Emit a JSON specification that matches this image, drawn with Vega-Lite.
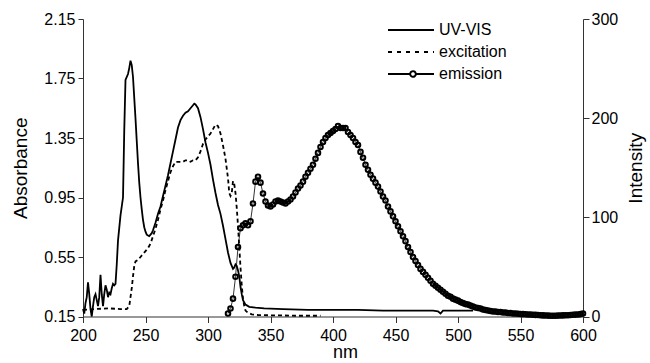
{
  "$schema": "https://vega.github.io/schema/vega-lite/v6.json",
  "width": 500,
  "height": 297.5,
  "autosize": {"type": "none"},
  "padding": {"left": 83, "top": 19, "right": 67, "bottom": 46.5},
  "background": "white",
  "config": {
    "view": {"stroke": null},
    "font": "Liberation Sans",
    "axis": {
      "grid": false,
      "domainColor": "#333",
      "tickColor": "#333",
      "labelColor": "black",
      "titleColor": "black",
      "labelFont": "Liberation Sans",
      "titleFont": "Liberation Sans",
      "labelFontSize": 16,
      "titleFontSize": 19,
      "titleFontWeight": "normal",
      "labelFlush": false,
      "labelOverlap": false
    }
  },
  "datasets": {
    "uv": [
      {"nm":200,"a":0.20},{"nm":201,"a":0.17},{"nm":202,"a":0.24},{"nm":203,"a":0.28},{"nm":204,"a":0.38},{"nm":205,"a":0.30},{"nm":206,"a":0.20},{"nm":207,"a":0.15},{"nm":208,"a":0.22},{"nm":209,"a":0.28},{"nm":210,"a":0.30},{"nm":211,"a":0.26},{"nm":212,"a":0.22},{"nm":213,"a":0.28},{"nm":214,"a":0.43},{"nm":215,"a":0.30},{"nm":216,"a":0.22},{"nm":217,"a":0.30},{"nm":218,"a":0.36},{"nm":219,"a":0.33},{"nm":220,"a":0.28},{"nm":221,"a":0.31},{"nm":222,"a":0.30},{"nm":223,"a":0.34},{"nm":224,"a":0.37},{"nm":225,"a":0.36},{"nm":226,"a":0.37},{"nm":227,"a":0.50},{"nm":228,"a":0.66},{"nm":230,"a":0.83},{"nm":232,"a":0.95},{"nm":233,"a":1.40},{"nm":234,"a":1.74},{"nm":236,"a":1.78},{"nm":237,"a":1.82},{"nm":238,"a":1.87},{"nm":239,"a":1.84},{"nm":240,"a":1.76},{"nm":241,"a":1.62},{"nm":242,"a":1.48},{"nm":243,"a":1.33},{"nm":244,"a":1.18},{"nm":245,"a":1.05},{"nm":246,"a":0.95},{"nm":247,"a":0.87},{"nm":248,"a":0.80},{"nm":249,"a":0.75},{"nm":250,"a":0.72},{"nm":251,"a":0.70},{"nm":252,"a":0.695},{"nm":253,"a":0.69},{"nm":254,"a":0.70},{"nm":255,"a":0.71},{"nm":256,"a":0.73},{"nm":258,"a":0.78},{"nm":260,"a":0.84},{"nm":262,"a":0.89},{"nm":264,"a":0.96},{"nm":266,"a":1.03},{"nm":268,"a":1.10},{"nm":270,"a":1.18},{"nm":272,"a":1.26},{"nm":274,"a":1.34},{"nm":276,"a":1.42},{"nm":278,"a":1.47},{"nm":280,"a":1.50},{"nm":282,"a":1.52},{"nm":284,"a":1.53},{"nm":286,"a":1.55},{"nm":288,"a":1.57},{"nm":289,"a":1.58},{"nm":290,"a":1.575},{"nm":292,"a":1.55},{"nm":294,"a":1.49},{"nm":296,"a":1.41},{"nm":298,"a":1.32},{"nm":300,"a":1.25},{"nm":302,"a":1.17},{"nm":304,"a":1.07},{"nm":306,"a":0.98},{"nm":308,"a":0.90},{"nm":310,"a":0.84},{"nm":312,"a":0.76},{"nm":314,"a":0.67},{"nm":316,"a":0.58},{"nm":318,"a":0.51},{"nm":320,"a":0.47},{"nm":321,"a":0.48},{"nm":322,"a":0.50},{"nm":323,"a":0.49},{"nm":324,"a":0.46},{"nm":325,"a":0.42},{"nm":326,"a":0.35},{"nm":327,"a":0.30},{"nm":328,"a":0.26},{"nm":330,"a":0.23},{"nm":333,"a":0.215},{"nm":338,"a":0.21},{"nm":345,"a":0.205},{"nm":360,"a":0.20},{"nm":380,"a":0.195},{"nm":400,"a":0.195},{"nm":420,"a":0.195},{"nm":440,"a":0.19},{"nm":460,"a":0.19},{"nm":480,"a":0.19},{"nm":484,"a":0.185},{"nm":486,"a":0.17},{"nm":488,"a":0.19},{"nm":500,"a":0.19},{"nm":512,"a":0.19}
    ],
    "exc": [
      {"nm":200,"a":0.195},{"nm":210,"a":0.20},{"nm":220,"a":0.205},{"nm":230,"a":0.20},{"nm":235,"a":0.20},{"nm":237,"a":0.22},{"nm":238,"a":0.28},{"nm":239,"a":0.34},{"nm":240,"a":0.42},{"nm":241,"a":0.49},{"nm":242,"a":0.52},{"nm":244,"a":0.53},{"nm":246,"a":0.55},{"nm":248,"a":0.57},{"nm":250,"a":0.59},{"nm":252,"a":0.61},{"nm":254,"a":0.64},{"nm":256,"a":0.69},{"nm":258,"a":0.74},{"nm":260,"a":0.80},{"nm":262,"a":0.87},{"nm":264,"a":0.93},{"nm":266,"a":1.00},{"nm":268,"a":1.06},{"nm":270,"a":1.12},{"nm":272,"a":1.16},{"nm":274,"a":1.19},{"nm":276,"a":1.19},{"nm":278,"a":1.19},{"nm":280,"a":1.19},{"nm":282,"a":1.20},{"nm":284,"a":1.20},{"nm":286,"a":1.19},{"nm":288,"a":1.20},{"nm":290,"a":1.20},{"nm":292,"a":1.22},{"nm":294,"a":1.26},{"nm":296,"a":1.31},{"nm":298,"a":1.34},{"nm":300,"a":1.36},{"nm":302,"a":1.38},{"nm":304,"a":1.41},{"nm":306,"a":1.44},{"nm":308,"a":1.43},{"nm":310,"a":1.38},{"nm":312,"a":1.30},{"nm":314,"a":1.21},{"nm":316,"a":1.08},{"nm":317,"a":0.98},{"nm":318,"a":0.96},{"nm":319,"a":0.98},{"nm":320,"a":1.06},{"nm":321,"a":1.04},{"nm":322,"a":0.98},{"nm":323,"a":0.88},{"nm":324,"a":0.76},{"nm":325,"a":0.62},{"nm":326,"a":0.48},{"nm":327,"a":0.36},{"nm":328,"a":0.27},{"nm":329,"a":0.22},{"nm":330,"a":0.19},{"nm":332,"a":0.175},{"nm":335,"a":0.165},{"nm":340,"a":0.16},{"nm":350,"a":0.158},{"nm":360,"a":0.157},{"nm":370,"a":0.155},{"nm":380,"a":0.155},{"nm":390,"a":0.155}
    ],
    "em": [
      {"nm":316,"i":3},{"nm":318,"i":8},{"nm":320,"i":18},{"nm":322,"i":40},{"nm":324,"i":70},{"nm":326,"i":89},{"nm":328,"i":92},{"nm":330,"i":94},{"nm":332,"i":92},{"nm":334,"i":96},{"nm":336,"i":114},{"nm":338,"i":136},{"nm":340,"i":141},{"nm":342,"i":135},{"nm":344,"i":124},{"nm":346,"i":116},{"nm":348,"i":112},{"nm":350,"i":111},{"nm":352,"i":113},{"nm":354,"i":116},{"nm":356,"i":117},{"nm":358,"i":116},{"nm":360,"i":115},{"nm":362,"i":114},{"nm":364,"i":116},{"nm":366,"i":118},{"nm":368,"i":121},{"nm":370,"i":125},{"nm":372,"i":129},{"nm":374,"i":132},{"nm":376,"i":136},{"nm":378,"i":141},{"nm":380,"i":145},{"nm":382,"i":149},{"nm":384,"i":153},{"nm":386,"i":159},{"nm":388,"i":165},{"nm":390,"i":171},{"nm":392,"i":176},{"nm":394,"i":180},{"nm":396,"i":183},{"nm":398,"i":185},{"nm":400,"i":187},{"nm":402,"i":189},{"nm":404,"i":192},{"nm":406,"i":190},{"nm":408,"i":190},{"nm":410,"i":190},{"nm":412,"i":186},{"nm":414,"i":183},{"nm":416,"i":180},{"nm":418,"i":176},{"nm":420,"i":173},{"nm":422,"i":166},{"nm":424,"i":160},{"nm":426,"i":153},{"nm":428,"i":148},{"nm":430,"i":143},{"nm":432,"i":139},{"nm":434,"i":135},{"nm":436,"i":131},{"nm":438,"i":126},{"nm":440,"i":121},{"nm":442,"i":117},{"nm":444,"i":111},{"nm":446,"i":106},{"nm":448,"i":101},{"nm":450,"i":96},{"nm":452,"i":91},{"nm":454,"i":86},{"nm":456,"i":81},{"nm":458,"i":76},{"nm":460,"i":70},{"nm":462,"i":65},{"nm":464,"i":60},{"nm":466,"i":56},{"nm":468,"i":52},{"nm":470,"i":48},{"nm":472,"i":45},{"nm":474,"i":42},{"nm":476,"i":39},{"nm":478,"i":36},{"nm":480,"i":33},{"nm":482,"i":31},{"nm":484,"i":29},{"nm":486,"i":27},{"nm":488,"i":25},{"nm":490,"i":23},{"nm":492,"i":21},{"nm":494,"i":20},{"nm":496,"i":18},{"nm":498,"i":17},{"nm":500,"i":16},{"nm":502,"i":14.5},{"nm":504,"i":13.5},{"nm":506,"i":12.5},{"nm":508,"i":12},{"nm":510,"i":11},{"nm":512,"i":10},{"nm":514,"i":9},{"nm":516,"i":8.5},{"nm":518,"i":8},{"nm":520,"i":7},{"nm":522,"i":6.5},{"nm":524,"i":6},{"nm":526,"i":5.5},{"nm":528,"i":5},{"nm":530,"i":5},{"nm":532,"i":4.5},{"nm":534,"i":4.5},{"nm":536,"i":4},{"nm":538,"i":4},{"nm":540,"i":3.5},{"nm":542,"i":3.5},{"nm":544,"i":3},{"nm":546,"i":3},{"nm":548,"i":2.8},{"nm":550,"i":2.5},{"nm":552,"i":2.4},{"nm":554,"i":2.2},{"nm":556,"i":2},{"nm":558,"i":2},{"nm":560,"i":1.8},{"nm":562,"i":1.6},{"nm":564,"i":1.5},{"nm":566,"i":1.3},{"nm":568,"i":1.1},{"nm":570,"i":1},{"nm":572,"i":0.9},{"nm":574,"i":0.8},{"nm":576,"i":0.8},{"nm":578,"i":0.8},{"nm":580,"i":0.9},{"nm":582,"i":1},{"nm":584,"i":1.1},{"nm":586,"i":1.2},{"nm":588,"i":1.3},{"nm":590,"i":1.5},{"nm":592,"i":1.7},{"nm":594,"i":1.9},{"nm":596,"i":2.1},{"nm":598,"i":2.4},{"nm":600,"i":3}
    ],
    "leg": [{"s":"UV-VIS"},{"s":"excitation"},{"s":"emission"}]
  },
  "layer": [
    {
      "layer": [
        {
          "data": {"name": "uv"},
          "mark": {"type": "line", "color": "black", "strokeWidth": 1.8},
          "encoding": {
            "x": {"field": "nm", "type": "quantitative", "scale": {"domain": [200, 600], "nice": false, "zero": false},
                  "axis": {"values": [200,250,300,350,400,450,500,550,600], "title": "nm", "tickSize": 6, "labelPadding": 5, "titleX": 262, "titleY": 36, "titleFontSize": 18, "titleBaseline": "middle"}},
            "y": {"field": "a", "type": "quantitative", "scale": {"domain": [0.15, 2.15], "nice": false, "zero": false},
                  "axis": {"orient": "left", "values": [0.15,0.55,0.95,1.35,1.75,2.15], "format": ".2f", "title": "Absorbance", "tickSize": 5, "labelPadding": 3, "titleX": -63, "titleY": 148.75, "titleAngle": 270, "titleBaseline": "middle", "titleAlign": "center"}}
          }
        },
        {
          "data": {"name": "exc"},
          "mark": {"type": "line", "color": "black", "strokeWidth": 1.8, "strokeDash": [4, 3]},
          "encoding": {
            "x": {"field": "nm", "type": "quantitative"},
            "y": {"field": "a", "type": "quantitative", "scale": {"domain": [0.15, 2.15], "nice": false, "zero": false},
                  "axis": {"orient": "left", "values": [0.15,0.55,0.95,1.35,1.75,2.15], "format": ".2f", "title": "Absorbance", "tickSize": 5, "labelPadding": 3, "titleX": -63, "titleY": 148.75, "titleAngle": 270, "titleBaseline": "middle", "titleAlign": "center"}}
          }
        },
        {
          "data": {"name": "leg"},
          "mark": {"type": "point", "opacity": 0, "color": "black", "filled": false},
          "encoding": {
            "shape": {"field": "s", "type": "nominal",
              "scale": {"domain": ["UV-VIS","excitation","emission"], "range": ["M-3.6,0H1", "M-3.6,0H1", "M-3.6,0H-1.38M-0.82,0H1M-0.82,0A0.28,0.28 0 1,1 -1.38,0A0.28,0.28 0 1,1 -0.82,0"]},
              "legend": {"orient": "none", "legendX": 330, "legendY": 0, "title": null, "symbolSize": 400, "symbolOpacity": 1, "symbolStrokeColor": "black", "labelFontSize": 16, "labelFont": "Liberation Sans", "labelColor": "black", "labelOffset": 4, "rowPadding": 3}},
            "strokeDash": {"field": "s", "type": "nominal",
              "scale": {"domain": ["UV-VIS","excitation","emission"], "range": [[1,0],[4,5],[1,0]]},
              "legend": {"orient": "none", "legendX": 330, "legendY": 0, "title": null, "symbolSize": 400, "symbolOpacity": 1, "symbolStrokeColor": "black", "labelFontSize": 16, "labelFont": "Liberation Sans", "labelColor": "black", "labelOffset": 4, "rowPadding": 3}},
            "strokeWidth": {"field": "s", "type": "nominal",
              "scale": {"domain": ["UV-VIS","excitation","emission"], "range": [2, 2, 1.6]},
              "legend": {"orient": "none", "legendX": 330, "legendY": 0, "title": null, "symbolSize": 400, "symbolOpacity": 1, "symbolStrokeColor": "black", "labelFontSize": 16, "labelFont": "Liberation Sans", "labelColor": "black", "labelOffset": 4, "rowPadding": 3}}
          }
        }
      ]
    },
    {
      "data": {"name": "em"},
      "layer": [
        {
          "mark": {"type": "line", "color": "black", "strokeWidth": 0.8},
          "encoding": {
            "x": {"field": "nm", "type": "quantitative"},
            "y": {"field": "i", "type": "quantitative", "scale": {"domain": [0, 300], "nice": false},
                  "axis": {"orient": "right", "values": [0,100,200,300], "title": "Intensity", "tickSize": 6, "labelPadding": 2, "titleX": 52, "titleY": 148.75, "titleAngle": 270, "titleBaseline": "middle", "titleAlign": "center"}}
          }
        },
        {
          "mark": {"type": "point", "color": "black", "filled": false, "size": 21, "strokeWidth": 2, "opacity": 1},
          "encoding": {
            "x": {"field": "nm", "type": "quantitative"},
            "y": {"field": "i", "type": "quantitative", "scale": {"domain": [0, 300], "nice": false},
                  "axis": {"orient": "right", "values": [0,100,200,300], "title": "Intensity", "tickSize": 6, "labelPadding": 2, "titleX": 52, "titleY": 148.75, "titleAngle": 270, "titleBaseline": "middle", "titleAlign": "center"}}
          }
        }
      ]
    }
  ],
  "resolve": {"scale": {"y": "independent"}}
}
